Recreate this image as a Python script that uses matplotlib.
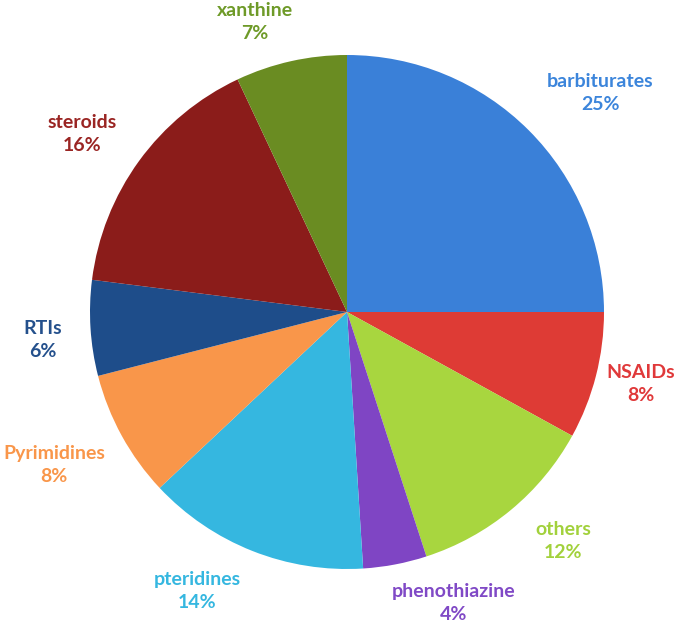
import matplotlib
matplotlib.use("Agg")
import matplotlib.pyplot as plt

categories = ["barbiturates", "NSAIDs", "others", "phenothiazine", "pteridines",
              "Pyrimidines", "RTIs", "steroids", "xanthine"]
shares = [25, 8, 12, 4, 14, 8, 6, 16, 7]
colors = ["#3A80D8", "#DE3B35", "#A8D63F", "#7F45C4", "#35B7E0",
          "#F9964A", "#1E4D8A", "#8B1C1A", "#6A8C22"]
text_colors = ["#3C85DB", "#E0393A", "#A2D13C", "#8049C6", "#35B7E0",
               "#F9964A", "#24508C", "#9A2523", "#6E9A28"]
# label centres in pixels of the reference image
label_px = [(600, 93), (641, 384), (563, 541), (454, 603), (197, 591),
            (54, 465), (43, 340), (82, 134), (255, 22)]

W, H = 682, 624
cx, cy, r = 347, 312, 257

fig = plt.figure(figsize=(W / 100, H / 100), dpi=100)
ax = fig.add_axes([(cx - r) / W, (H - cy - r) / H, 2 * r / W, 2 * r / H])
ax.pie(shares, colors=colors, startangle=90, counterclock=False,
       wedgeprops=dict(linewidth=0))
ax.set_xlim(-1, 1)
ax.set_ylim(-1, 1)
ax.set_aspect("equal")
ax.axis("off")

for name, val, col, (px, py) in zip(categories, shares, text_colors, label_px):
    ax.text((px - cx) / r, (cy - py) / r, f"{name}\n{val}%", color=col,
            ha="center", va="center", fontsize=14, fontweight="bold",
            family="Lato", linespacing=1.45, clip_on=False)

fig.savefig("out.png", dpi=100)
